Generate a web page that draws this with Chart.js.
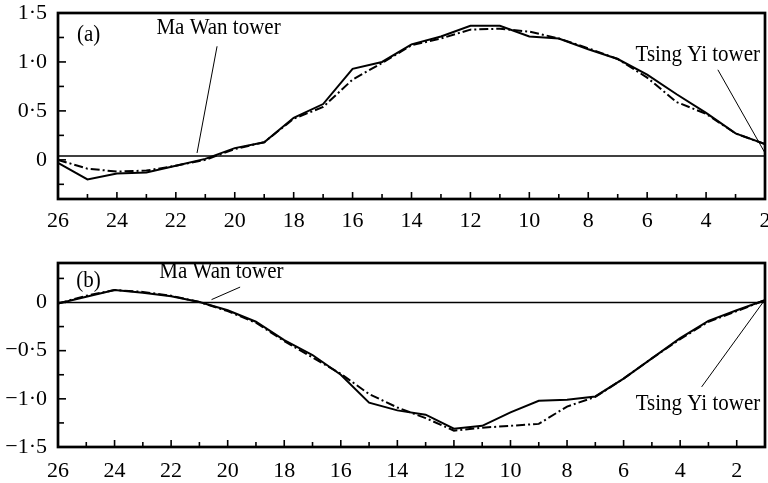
<!DOCTYPE html>
<html>
<head>
<meta charset="utf-8">
<script src="https://cdn.jsdelivr.net/npm/chart.js@4.4.1/dist/chart.umd.min.js"></script>
<style>
  html, body { margin:0; padding:0; background:#fff; }
  #wrap { position:relative; width:768px; height:483px; }
  canvas { position:absolute; left:0; }
  #chartA { top:0; }
  #chartB { top:240px; }
</style>
</head>
<body>
<div id="wrap">
  <canvas id="chartA" width="768" height="240"></canvas>
  <canvas id="chartB" width="768" height="243"></canvas>
</div>
<script>
// panel (a)
const posA   = [26,25,24,23,22,21,20,19,18,17,16,15,14,13,12,11,10,9,8,7,6,5,4,3,2];
const solidA = [-0.03,-0.20,-0.14,-0.13,-0.06,0.01,0.12,0.18,0.43,0.57,0.93,1.00,1.18,1.26,1.37,1.37,1.26,1.24,1.13,1.03,0.87,0.67,0.48,0.27,0.16];
const dashA  = [0.00,-0.09,-0.12,-0.11,-0.06,0.00,0.11,0.18,0.42,0.54,0.82,0.99,1.17,1.24,1.33,1.34,1.31,1.24,1.14,1.03,0.84,0.59,0.47,0.27,0.16];
const xTicksA = [26,24,22,20,18,16,14,12,10,8,6,4,2];
const yTicksA = [1.5,1.0,0.5,0];

// panel (b)
const posB   = [26,25,24,23,22,21,20,19,18,17,16,15,14,13,12,11,10,9,8,7,6,5,4,3,2,1];
const solidB = [-0.01,0.06,0.13,0.10,0.065,0.005,-0.08,-0.20,-0.39,-0.545,-0.75,-1.04,-1.12,-1.165,-1.31,-1.28,-1.14,-1.02,-1.01,-0.975,-0.79,-0.58,-0.37,-0.19,-0.08,0.025];
const dashB  = [-0.01,0.07,0.13,0.11,0.07,0.005,-0.09,-0.21,-0.40,-0.57,-0.74,-0.95,-1.09,-1.20,-1.33,-1.30,-1.28,-1.26,-1.08,-0.98,-0.79,-0.58,-0.38,-0.20,-0.09,0.025];
const xTicksB = [26,24,22,20,18,16,14,12,10,8,6,4,2];
const yTicksB = [0,-0.5,-1.0,-1.5];

const FONT = '"Liberation Serif", "Times New Roman", serif';

function fmt(v){
  if (v === 0) return '0';
  const s = Math.abs(v).toFixed(1).replace('.', '\u00b7');
  return v < 0 ? '\u2212' + s : s;
}

// frame, inward ticks, reference line and tower labels
const decor = {
  id: 'decor',
  afterDatasetsDraw(chart, args, o){
    const {ctx, chartArea: a, scales: {x, y}} = chart;
    ctx.save();
    ctx.strokeStyle = '#000';
    ctx.fillStyle = '#000';

    // horizontal reference line
    ctx.lineWidth = 1.5;
    const yb = y.getPixelForValue(o.base);
    ctx.beginPath(); ctx.moveTo(a.left, yb); ctx.lineTo(a.right, yb); ctx.stroke();

    // y ticks every 0.25
    ctx.lineWidth = 1.6;
    for (let v = Math.ceil(y.min / 0.25) * 0.25; v <= y.max + 1e-9; v += 0.25){
      const major = o.yTicks.some(t => Math.abs(t - v) < 1e-6);
      const py = y.getPixelForValue(v);
      ctx.beginPath(); ctx.moveTo(a.left, py); ctx.lineTo(a.left + (major ? 8 : 6), py); ctx.stroke();
    }
    // x ticks every unit
    for (let v = Math.ceil(x.min); v <= x.max; v++){
      const major = o.xTicks.includes(v);
      const px = x.getPixelForValue(v);
      ctx.beginPath(); ctx.moveTo(px, a.bottom); ctx.lineTo(px, a.bottom - (major ? 7 : 5)); ctx.stroke();
    }

    // leader lines
    ctx.lineWidth = 1;
    o.leaders.forEach(l => {
      ctx.beginPath();
      ctx.moveTo(x.getPixelForValue(l[0]), y.getPixelForValue(l[1]));
      ctx.lineTo(x.getPixelForValue(l[2]), y.getPixelForValue(l[3]));
      ctx.stroke();
    });

    // labels
    ctx.font = '21px ' + FONT;
    ctx.textAlign = 'center';
    ctx.textBaseline = 'middle';
    o.notes.forEach(n => {
      ctx.save();
      ctx.translate(x.getPixelForValue(n.x), y.getPixelForValue(n.y));
      ctx.scale(1, 1.12);
      ctx.fillText(n.text, 0, 0);
      ctx.restore();
    });

    // frame
    ctx.lineWidth = 2.7;
    ctx.strokeRect(a.left, a.top, a.right - a.left, a.bottom - a.top);
    ctx.restore();
  }
};

function makeChart(id, c){
  const pts = vals => c.pos.map((p, i) => ({x: p, y: vals[i]}));
  return new Chart(document.getElementById(id), {
    type: 'line',
    data: {
      datasets: [
        { data: pts(c.solid), borderColor: '#000', borderWidth: 2, pointRadius: 0, tension: 0 },
        { data: pts(c.dash), borderColor: '#000', borderWidth: 2, borderDash: [9,3,2,3], pointRadius: 0, tension: 0 }
      ]
    },
    options: {
      responsive: false,
      animation: false,
      events: [],
      layout: { padding: { top: c.padTop, right: 3, left: 0, bottom: 0 } },
      plugins: {
        legend: { display: false },
        tooltip: { enabled: false },
        decor: { base: c.base, xTicks: c.xTicks, yTicks: c.yTicks, notes: c.notes, leaders: c.leaders }
      },
      scales: {
        x: {
          type: 'linear', reverse: true, min: c.xMin, max: c.xMax,
          grid: { display: false, drawTicks: false }, border: { display: false },
          afterBuildTicks: s => { s.ticks = c.xTicks.map(v => ({value: v})); },
          afterFit: s => { s.height = c.xHeight; s.paddingLeft = 0; s.paddingRight = 0; },
          ticks: { color: '#000', font: { family: FONT, size: 22 }, padding: c.xPad,
                   maxRotation: 0, autoSkip: false, callback: v => String(v) }
        },
        y: {
          min: c.yMin, max: c.yMax,
          grid: { display: false, drawTicks: false }, border: { display: false },
          afterBuildTicks: s => { s.ticks = c.yTicks.map(v => ({value: v})); },
          afterFit: s => { s.width = 58; s.paddingTop = 0; s.paddingBottom = 0; },
          ticks: { color: '#000', font: { family: FONT, size: 22 }, padding: 11, callback: v => fmt(v) }
        }
      }
    },
    plugins: [decor]
  });
}

makeChart('chartA', {
  pos: posA, solid: solidA, dash: dashA,
  xMin: 2, xMax: 26, yMin: -0.4, yMax: 1.5,
  xTicks: xTicksA, yTicks: yTicksA,
  base: 0.04, padTop: 13, xHeight: 41, xPad: 9,
  notes: [
    { text: '(a)', x: 24.96, y: 1.28 },
    { text: 'Ma Wan tower', x: 20.55, y: 1.35 },
    { text: 'Tsing Yi tower', x: 4.28, y: 1.07 }
  ],
  leaders: [[20.6, 1.16, 21.28, 0.07], [3.6, 0.92, 2.0, 0.07]]
});

makeChart('chartB', {
  pos: posB, solid: solidB, dash: dashB,
  xMin: 1, xMax: 26, yMin: -1.5, yMax: 0.41,
  xTicks: xTicksB, yTicks: yTicksB,
  base: 0, padTop: 23, xHeight: 36, xPad: 11,
  notes: [
    { text: '(b)', x: 24.92, y: 0.23 },
    { text: 'Ma Wan tower', x: 20.22, y: 0.32 },
    { text: 'Tsing Yi tower', x: 3.37, y: -1.05 }
  ],
  leaders: [[19.56, 0.16, 20.57, 0.03], [3.24, -0.876, 1.06, 0.006]]
});
</script>
</body>
</html>
